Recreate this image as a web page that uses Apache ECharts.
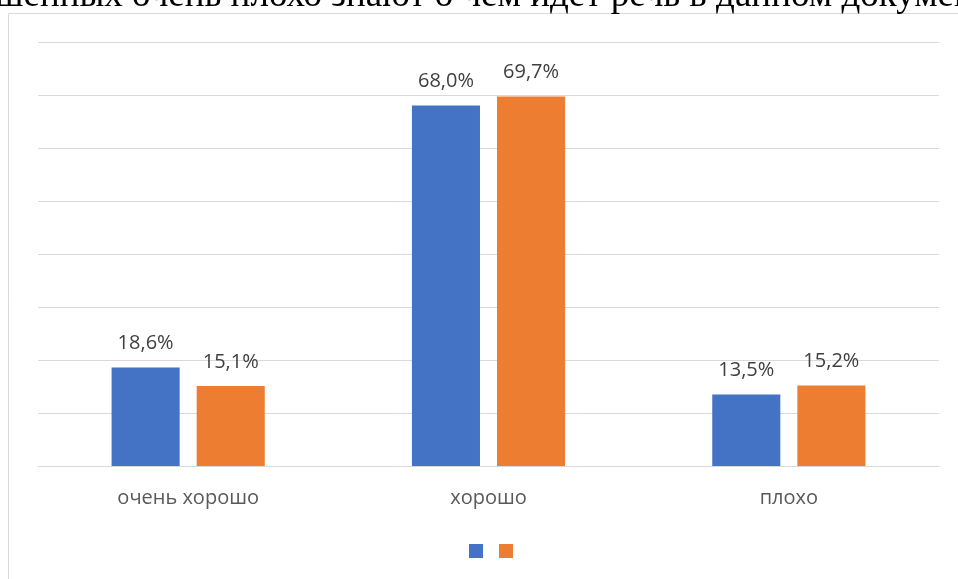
<!DOCTYPE html>
<html>
<head>
<meta charset="utf-8">
<style>html,body{margin:0;padding:0;background:#fff;}#c{width:958px;height:579px;}</style>
<script src="https://cdn.jsdelivr.net/npm/echarts@6/dist/echarts.min.js"></script>
</head>
<body>
<div id="c"></div>
<script>
const categories = ['очень хорошо', 'хорошо', 'плохо'];
const seriesBlue = [18.6, 68.0, 13.5];
const seriesOrange = [15.1, 69.7, 15.2];
const seriesNames = ['Ряд1', 'Ряд2'];
const headerText = 'шенных очень плохо знают о чем идет речь в данном документе';

const chart = echarts.init(document.getElementById('c'));
const fmt = p => p.value.toFixed(1).replace('.', ',') + '%';
const labelStyle = {show: true, position: 'top', distance: 14, formatter: fmt,
  color: '#404040', fontSize: 20, fontFamily: 'Open Sans'};
chart.setOption({
  animation: false,
  backgroundColor: '#fff',
  graphic: [
    {type: 'text', left: -5, top: -22, z: 10,
      style: {text: headerText, font: '37px "Liberation Serif"', fill: '#000'}},
    {type: 'rect', shape: {x: 8.5, y: 13.5, width: 1000, height: 700},
      style: {fill: 'none', stroke: '#d9d9d9', lineWidth: 1}}
  ],
  grid: {left: 38, right: 19, top: 42, bottom: 113},
  legend: {bottom: 16, left: 464, itemWidth: 14, itemHeight: 14, itemGap: 16,
    icon: 'rect', formatter: () => '', data: seriesNames},
  xAxis: {type: 'category', data: categories,
    axisLine: {show: true, lineStyle: {color: '#d9d9d9'}}, axisTick: {show: false},
    axisLabel: {color: '#595959', fontSize: 20, fontFamily: 'Open Sans', margin: 22}},
  yAxis: {type: 'value', min: 0, max: 80, interval: 10,
    axisLabel: {show: false}, axisLine: {show: false}, axisTick: {show: false},
    splitLine: {lineStyle: {color: '#d9d9d9', width: 1}}},
  series: [
    {name: seriesNames[0], type: 'bar', data: seriesBlue, barGap: '25%', barCategoryGap: '49%',
      itemStyle: {color: '#4472C4'}, label: labelStyle},
    {name: seriesNames[1], type: 'bar', data: seriesOrange,
      itemStyle: {color: '#ED7D31'}, label: labelStyle}
  ]
});
</script>
</body>
</html>
